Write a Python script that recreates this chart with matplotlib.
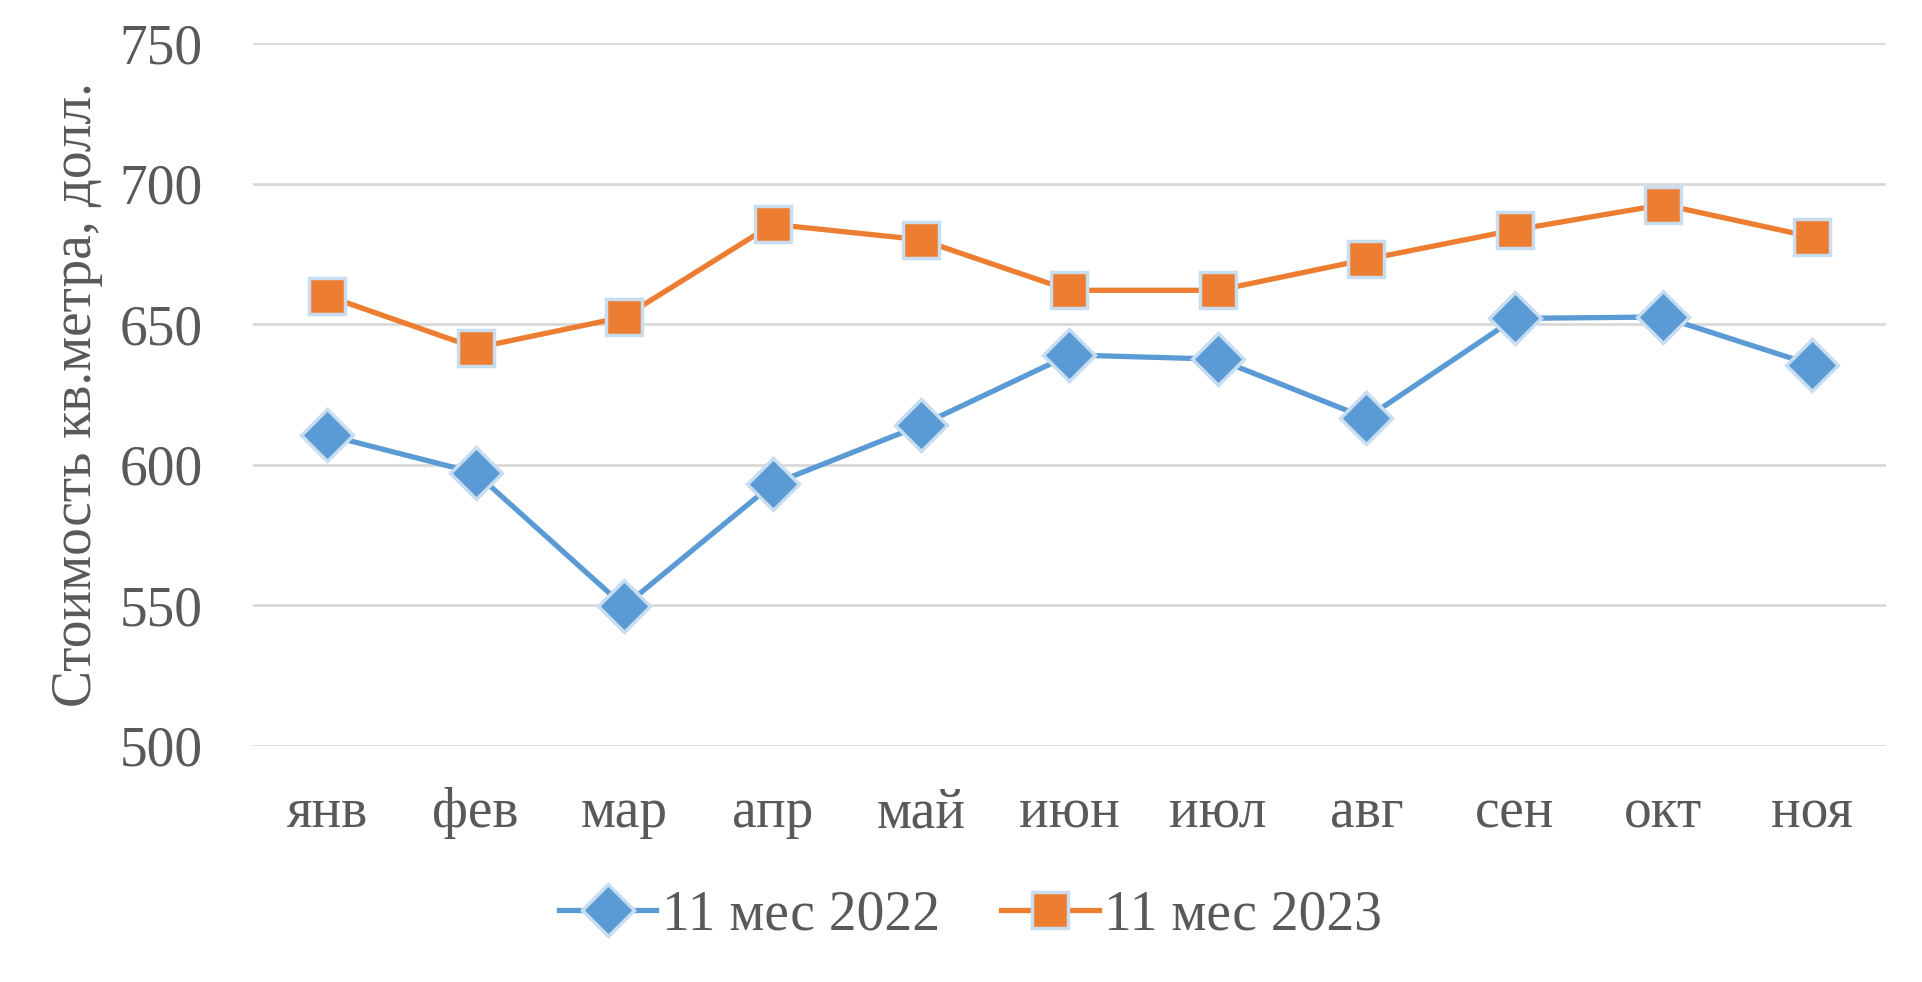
import matplotlib.pyplot as plt
import numpy as np

# данные
months = ['янв', 'фев', 'мар', 'апр', 'май', 'июн', 'июл', 'авг', 'сен', 'окт', 'ноя']
price_2022 = [610.5, 597, 549.5, 593, 614, 639, 637.5, 616.5, 652, 652.5, 635.5]
price_2023 = [660, 641.5, 652.5, 685.5, 680, 662, 662, 673, 683.5, 692.5, 681]
label_2022 = '11 мес 2022'
label_2023 = '11 мес 2023'

plt.rcParams['font.family'] = ['Liberation Serif', 'DejaVu Serif']
grey = '#595959'

fig = plt.figure(figsize=(19.22, 9.82), dpi=100)
ax = fig.add_axes([0.1316, 0.2408, 0.8497, 0.7154])

x = np.arange(len(months))
ax.plot(x, price_2022, color='#5b9bd5', lw=3.8, marker='D', markersize=26,
        markerfacecolor='#5b9bd5', markeredgecolor='#c9ddf1', markeredgewidth=2.5,
        label=label_2022, zorder=3)
ax.plot(x, price_2023, color='#ed7d31', lw=3.8, marker='s', markersize=26,
        markerfacecolor='#ed7d31', markeredgecolor='#c9ddf1', markeredgewidth=2.5,
        label=label_2023, zorder=3)

ax.set_ylim(500, 750)
ax.set_yticks([500, 550, 600, 650, 700, 750])
ax.set_xlim(-0.5, len(months) - 0.5)
ax.set_xticks(x)
ax.set_xticklabels(months)
ax.grid(axis='y', color='#d9d9d9', lw=2)
ax.set_axisbelow(True)
for s in ax.spines.values():
    s.set_visible(False)
ax.tick_params(axis='both', length=0, labelsize=40, colors=grey)
ax.tick_params(axis='y', pad=36)
ax.tick_params(axis='x', pad=30)
ax.set_ylabel('Стоимость кв.метра, долл.', fontsize=40, color=grey, labelpad=12)

fig.legend(loc='center', bbox_to_anchor=(0.505, 0.068), ncol=2, frameon=False,
           fontsize=40, labelcolor=grey, handlelength=1.75, columnspacing=1.1,
           handletextpad=0.1)

fig.savefig('out.png', dpi=100)
